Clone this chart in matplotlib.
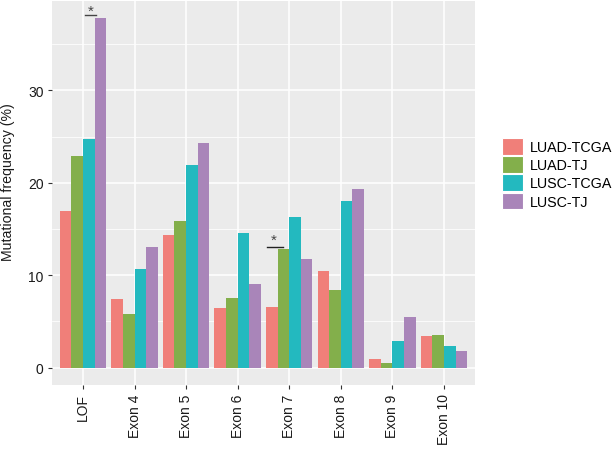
import matplotlib
matplotlib.use("Agg")
import matplotlib.pyplot as plt
import numpy as np
from matplotlib.patches import Patch

plt.rcParams['font.family'] = ['Liberation Sans', 'DejaVu Sans']

categories = ["LOF", "Exon 4", "Exon 5", "Exon 6", "Exon 7", "Exon 8", "Exon 9", "Exon 10"]
series_names = ["LUAD-TCGA", "LUAD-TJ", "LUSC-TCGA", "LUSC-TJ"]
luad_tcga = [17.0, 7.4, 14.3, 6.5, 6.55, 10.45, 0.9, 3.47]
luad_tj = [22.9, 5.75, 15.9, 7.5, 12.8, 8.4, 0.47, 3.5]
lusc_tcga = [24.7, 10.65, 21.9, 14.6, 16.3, 18.0, 2.85, 2.28]
lusc_tj = [37.8, 13.1, 24.3, 9.05, 11.7, 19.35, 5.43, 1.8]
colors = ["#F07F79", "#83AF4B", "#23B9BF", "#A985B9"]
yticks = [0, 10, 20, 30]

fig = plt.figure(figsize=(6.16, 4.52), dpi=100)
ax = fig.add_axes([0.0844, 0.146, 0.771 - 0.0844, 0.9956 - 0.146])
ax.set_facecolor("#EBEBEB")

x = np.arange(1, len(categories) + 1)
w = 0.9 / 4
all_series = [luad_tcga, luad_tj, lusc_tcga, lusc_tj]
for i, (vals, c) in enumerate(zip(all_series, colors)):
    ax.bar(x + (i - 1.5) * w, vals, width=w, color=c, zorder=3, linewidth=0)

ymax = max(max(s) for s in all_series)
ax.set_ylim(-0.05 * ymax, ymax * 1.05)
ax.set_xlim(0.4, len(categories) + 0.6)

ax.set_yticks(yticks)
ax.set_yticks([5, 15, 25, 35], minor=True)
ax.set_xticks(x)
ax.set_xticklabels(categories, rotation=90)
ax.grid(which="major", color="white", linewidth=1.1, zorder=0)
ax.grid(which="minor", axis="y", color="white", linewidth=0.55, zorder=0)
ax.tick_params(which="major", length=3, color="#333333", width=0.8,
               labelsize=10, labelcolor="#1a1a1a", pad=3)
ax.tick_params(which="minor", length=0)
for s in ax.spines.values():
    s.set_visible(False)
ax.set_ylabel("Mutational frequency (%)", fontsize=10.2, color="#1a1a1a")
ax.yaxis.set_label_coords(-0.088, 0.53)

# significance markers
ax.plot([1 + 0.04, 1 + 0.26], [38.15, 38.15], color="#444444", lw=1, zorder=4, clip_on=False)
ax.text(1 + 0.15, 37.9, "*", ha="center", va="bottom", fontsize=11, color="#444444")
ax.plot([5 - 0.44, 5 - 0.12], [13.1, 13.1], color="#222222", lw=1, zorder=4)
ax.text(5 - 0.31, 13.1, "*", ha="center", va="bottom", fontsize=11, color="#444444")

handles = [Patch(facecolor=c, edgecolor="white", linewidth=0.8) for c in colors]
fig.legend(handles, series_names, loc="upper left", bbox_to_anchor=(502 / 616, 1 - 139 / 452),
           frameon=False, fontsize=10.3, handlelength=1.44, handleheight=1.4,
           handletextpad=0.5, labelspacing=0.12, borderpad=0, borderaxespad=0)

fig.savefig("out.png", dpi=100)
